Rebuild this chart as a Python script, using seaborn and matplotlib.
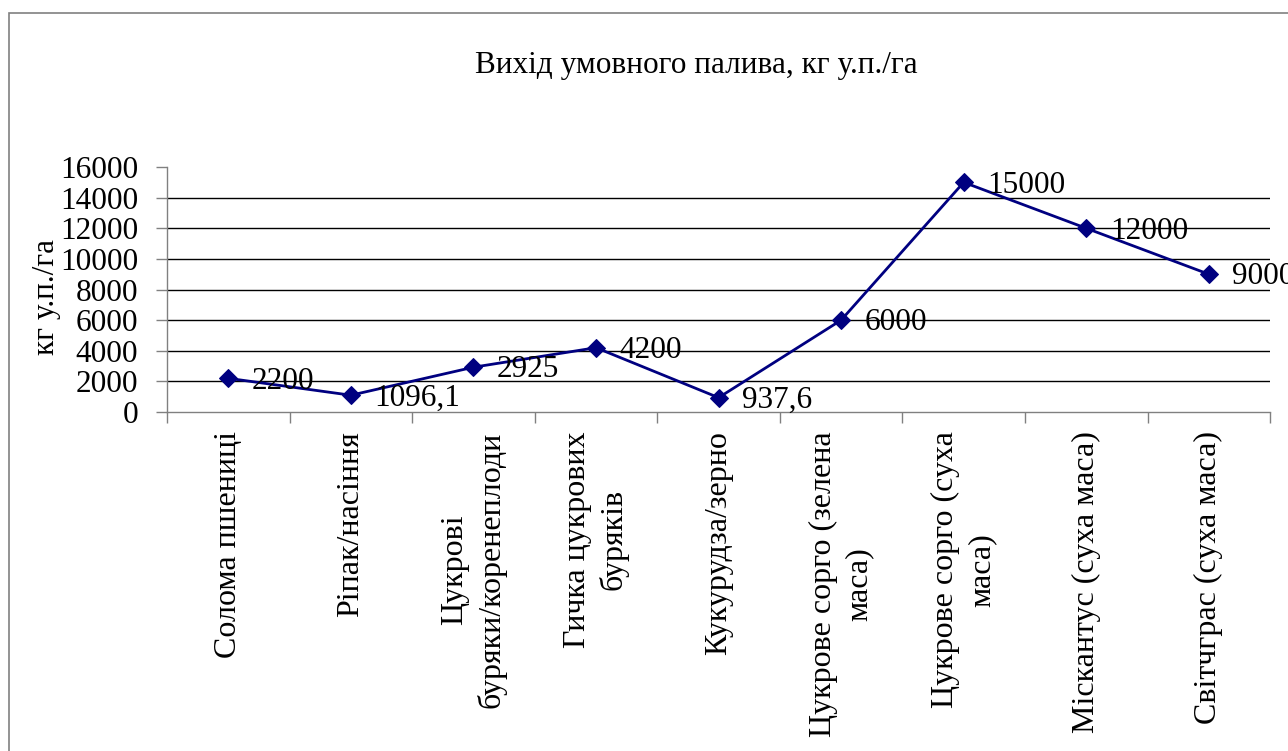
import numpy as np
import pandas as pd
import seaborn as sns
import matplotlib.pyplot as plt
from matplotlib.patches import Rectangle

crops = ['Солома пшениці', 'Ріпак/насіння', 'Цукрові\nбуряки/коренеплоди',
         'Гичка цукрових\nбуряків', 'Кукурудза/зерно', 'Цукрове сорго (зелена\nмаса)',
         'Цукрове сорго (суха\nмаса)', 'Міскантус (суха маса)', 'Світчграс (суха маса)']
fuel = [2200, 1096.1, 2925, 4200, 937.6, 6000, 15000, 12000, 9000]
yticks = [0, 2000, 4000, 6000, 8000, 10000, 12000, 14000, 16000]

table = pd.DataFrame({'pos': np.arange(len(crops)), 'fuel': fuel})

sns.set_style('white')
plt.rcParams['font.family'] = ['Liberation Serif', 'DejaVu Serif']
plt.rcParams['text.color'] = 'black'
plt.rcParams['axes.labelcolor'] = 'black'
plt.rcParams['xtick.color'] = 'black'
plt.rcParams['ytick.color'] = 'black'

fs = 22.5

fig = plt.figure(figsize=(12.88, 7.51), dpi=100)
ax = fig.add_axes([0.1297, 0.4514, 0.8564, 0.3262])

# outer chart frame
fig.patches.append(Rectangle((9 / 1288, -0.1), 1.2, 1 - 13 / 751 + 0.1, transform=fig.transFigure,
                             fill=False, edgecolor='#808080', linewidth=1.2))

for v in yticks[1:-1]:
    ax.axhline(v, color='black', linewidth=1, zorder=1)

sns.lineplot(data=table, x='pos', y='fuel', ax=ax, color='#000080', marker='D',
             markersize=9, markeredgecolor='#000080', linewidth=2, zorder=3)

for x, v in zip(table['pos'], fuel):
    txt = ('%g' % v).replace('.', ',')
    ax.annotate(txt, (x, v), xytext=(17, -2), textcoords='offset points',
                ha='left', va='center', fontsize=fs, clip_on=False, zorder=4)

ax.set_xlim(-0.5, len(crops) - 0.5)
ax.set_ylim(0, 16000)
ax.set_yticks(yticks)
ax.set_yticklabels([str(t) for t in yticks], fontsize=fs)
ax.set_xticks(np.arange(len(crops) + 1) - 0.5)
ax.set_xticklabels([])
ax.set_xticks(np.arange(len(crops)), minor=True)
ax.set_xticklabels(crops, minor=True, rotation=90, fontsize=23, va='top', ha='center',
                   multialignment='center', linespacing=1.3)
ax.tick_params(axis='x', which='minor', length=0, pad=14)
ax.tick_params(axis='x', which='major', length=8, width=1, color='#808080', direction='out')
ax.tick_params(axis='y', length=8, width=1, color='#808080', direction='out', pad=13)
ax.tick_params(bottom=True, left=True)
ax.xaxis.set_tick_params(which='minor', bottom=True)

for s in ['top', 'right']:
    ax.spines[s].set_visible(False)
for s in ['left', 'bottom']:
    ax.spines[s].set_color('#808080')
    ax.spines[s].set_linewidth(1)

ax.set_xlabel('')
ax.set_ylabel('кг у.п./га', fontsize=fs)
ax.yaxis.set_label_coords(-0.096, 0.47)
fig.text(0.541, 0.913, 'Вихід умовного палива, кг у.п./га', ha='center', va='center', fontsize=fs)

fig.savefig('out.png', dpi=100)
